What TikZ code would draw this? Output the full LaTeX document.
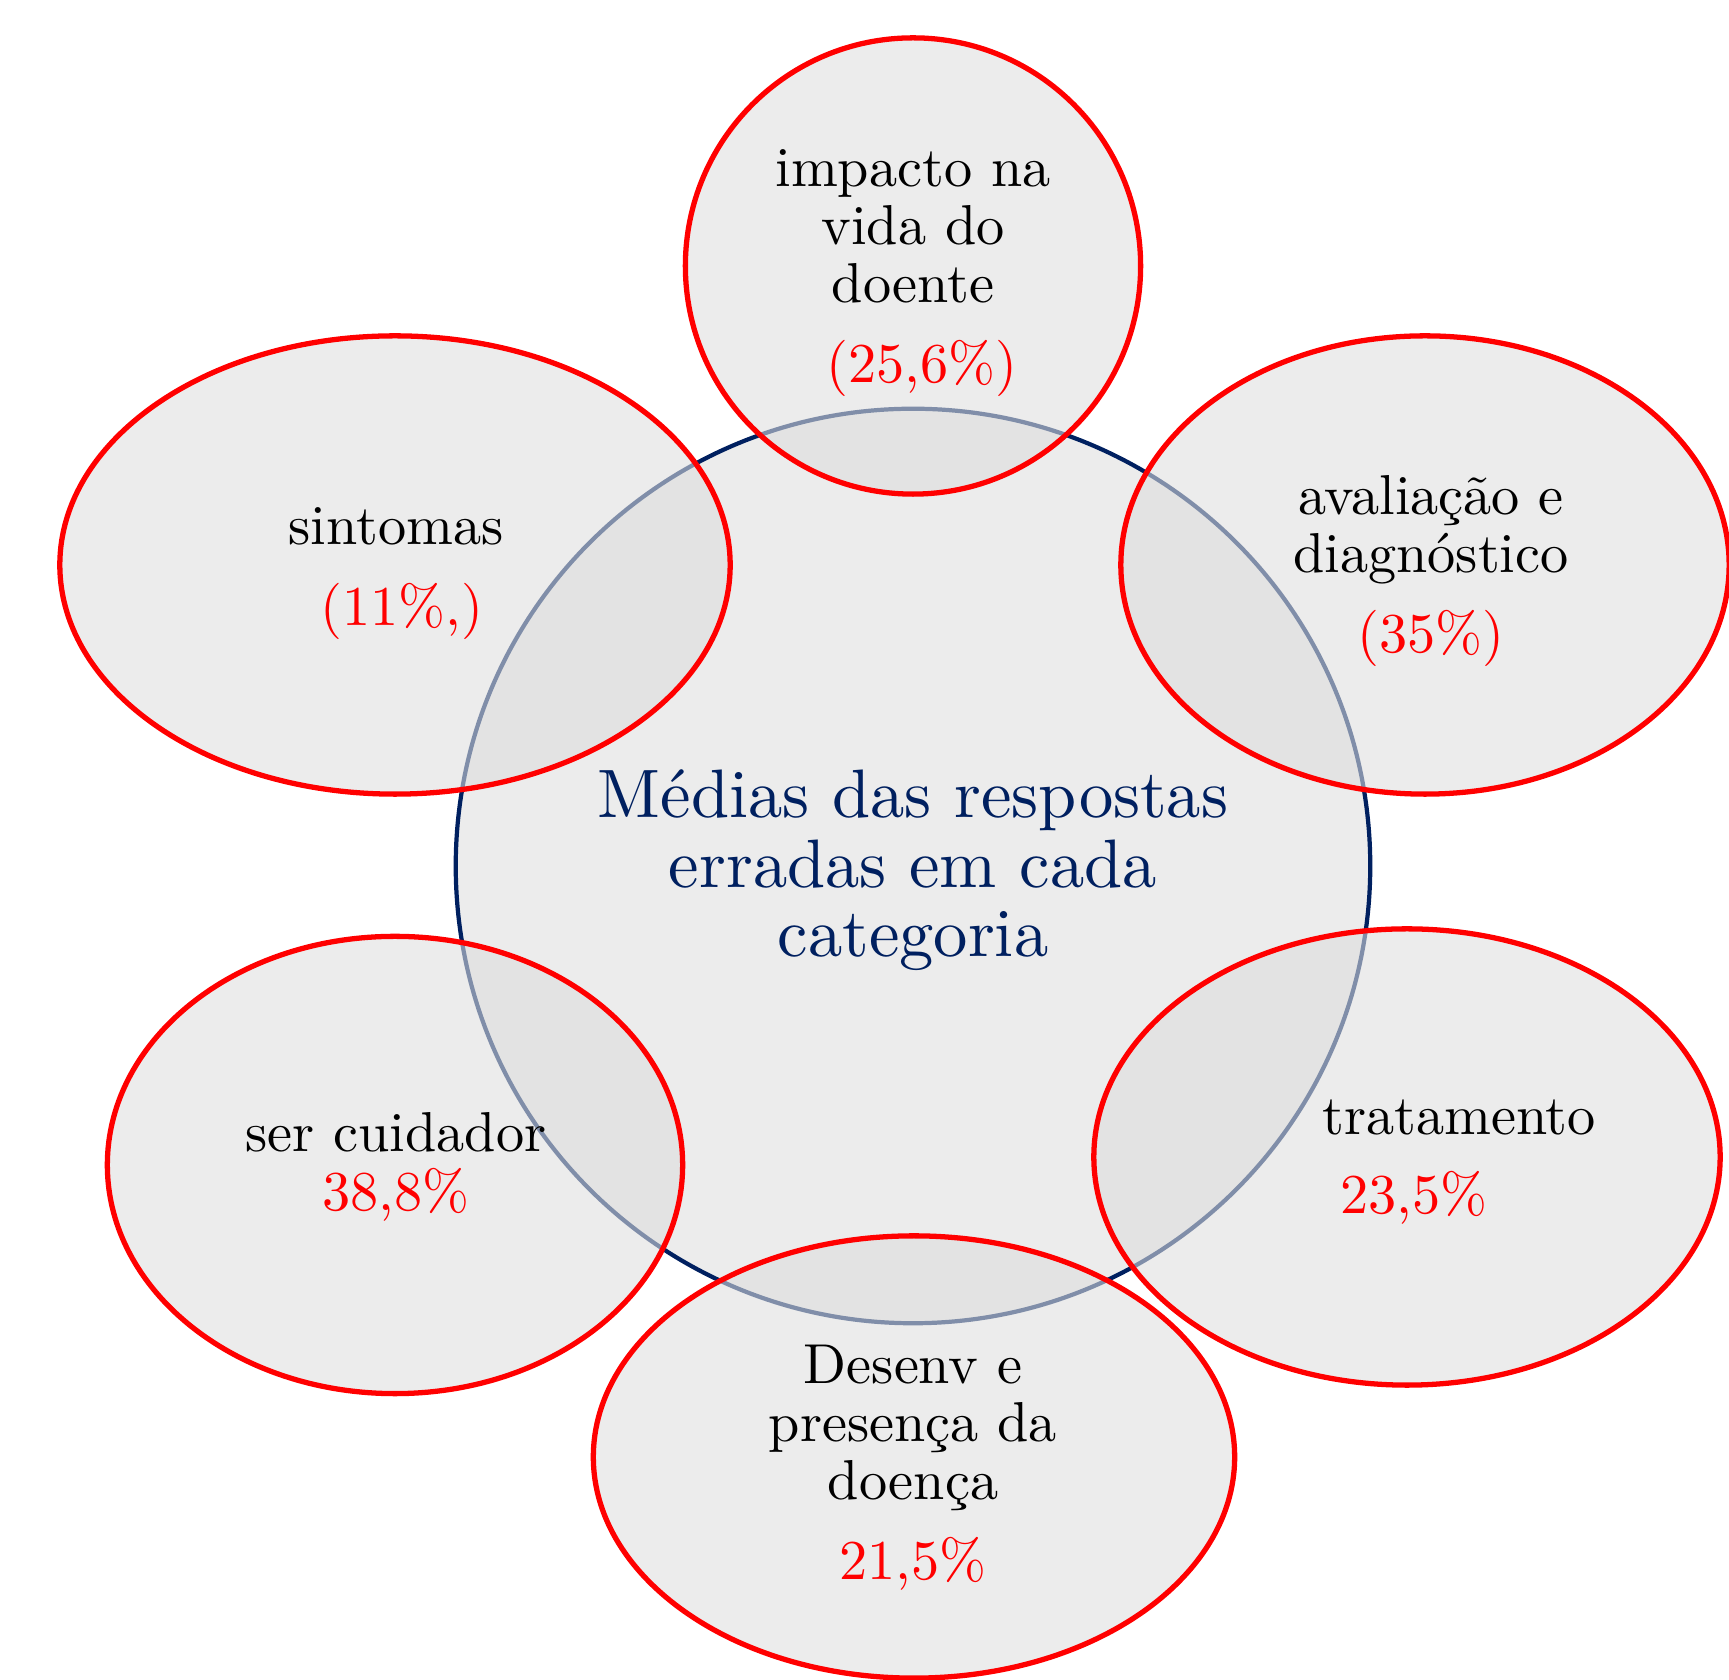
\documentclass[tikz,border=0pt]{standalone}
\usepackage{fontspec}
\setmainfont{lmroman10-regular}[Extension=.otf]
\usetikzlibrary{shapes.geometric}
\definecolor{navyc}{HTML}{002060}
\definecolor{redc}{HTML}{FF0000}
\definecolor{hubfill}{HTML}{ECECEC}
\definecolor{catfill}{HTML}{DEDEDE}
\tikzset{
  hub/.style={circle, draw=navyc, line width=1.2pt, fill=hubfill, minimum size=9.14cm, inner sep=0pt},
  cat/.style={ellipse, draw=redc, line width=1.5pt, fill=catfill, fill opacity=0.58, draw opacity=1, inner sep=0pt},
  lbl/.style={font=\fontsize{16}{16.5}\selectfont, align=center, anchor=base, text=black},
  pct/.style={font=\fontsize{16}{16.5}\selectfont, anchor=base, text=redc},
  hubtxt/.style={font=\fontsize{19.5}{19.9}\selectfont, align=center, anchor=base, text=navyc},
}

\begin{document}
\begin{tikzpicture}[x=0.01cm, y=-0.01cm]
  \useasboundingbox (0,0) rectangle (1729,1680);
  \node[hub] (centro) at (913,866) {};
  \node[cat, minimum width=4.55cm, minimum height=4.56cm] (impacto) at (913,266) {};
  \node[cat, minimum width=6.70cm, minimum height=4.58cm] (sintomas) at (395,565) {};
  \node[cat, minimum width=6.08cm, minimum height=4.58cm] (avaliacao) at (1425,565) {};
  \node[cat, minimum width=5.75cm, minimum height=4.57cm] (cuidador) at (395,1165) {};
  \node[cat, minimum width=6.26cm, minimum height=4.56cm] (tratamento) at (1407,1157) {};
  \node[cat, minimum width=6.41cm, minimum height=4.42cm] (desenv) at (914,1457) {};
  \node[hubtxt] (centroT) at (913,957) {Médias das respostas\\erradas em cada\\categoria};
  \node[lbl] (impactoT) at (913,303) {impacto na\\vida do\\doente};
  \node[pct] (impactoP) at (922,383) {(25,6\%)};
  \node[lbl] (sintomasT) at (396,545) {sintomas};
  \node[pct] (sintomasP) at (402,626) {(11\%,)};
  \node[lbl] (avaliacaoT) at (1431,573) {avaliação e\\diagnóstico};
  \node[pct] (avaliacaoP) at (1431,653) {(35\%)};
  \node[lbl] (cuidadorT) at (396,1152) {ser cuidador};
  \node[pct] (cuidadorP) at (396,1211) {38,8\%};
  \node[lbl] (tratamentoT) at (1459,1135) {tratamento};
  \node[pct] (tratamentoP) at (1414,1214) {23,5\%};
  \node[lbl] (desenvT) at (913,1500) {Desenv e\\presença da\\doença};
  \node[pct] (desenvP) at (913,1580) {21,5\%};
\end{tikzpicture}
\end{document}
